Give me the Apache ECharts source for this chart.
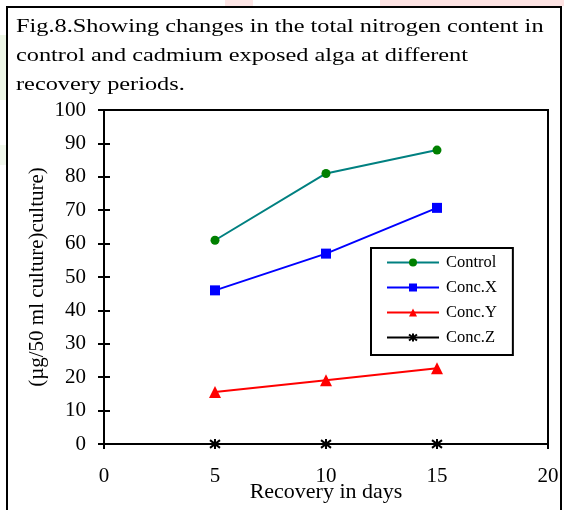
<!DOCTYPE html>
<html>
<head>
<meta charset="utf-8">
<script src="https://cdn.jsdelivr.net/npm/echarts@6/dist/echarts.min.js"></script>
<style>
html,body{margin:0;padding:0;background:#fff;}
#c{width:564px;height:510px;}
</style>
</head>
<body>
<div id="c"></div>
<script>
var days = [5, 10, 15];
var control = [61, 81, 88];
var concX = [46, 57, 70.7];
var concY = [15.6, 19.1, 22.7];
var concZ = [0, 0, 0];
var xTicks = [0, 5, 10, 15, 20];
var yTicks = [0, 10, 20, 30, 40, 50, 60, 70, 80, 90, 100];
var titleLines = [
  'Fig.8.Showing changes in the total nitrogen content in',
  'control and cadmium exposed alga at different',
  'recovery periods.'
];

function pairs(v) { return days.map(function (d, i) { return [d, v[i]]; }); }

var serif = '"Liberation Serif", "Times New Roman", serif';
var chart = echarts.init(document.getElementById('c'), null, {renderer: 'canvas'});
var asterisk = 'path://M0,0L10,10M10,0L0,10M5,-1.5L5,11.5';
var titleTop = [18, 47, 75.5];

chart.setOption({
  animation: false,
  backgroundColor: '#fff',
  textStyle: {fontFamily: serif},
  grid: {left: 104, right: 16, top: 110, bottom: 66, show: true, borderColor: '#000', borderWidth: 2, backgroundColor: 'transparent', containLabel: false, outerBoundsMode: 'none'},
  xAxis: [{
    type: 'value', min: xTicks[0], max: xTicks[xTicks.length - 1], interval: 5,
    axisLine: {show: true, lineStyle: {color: '#000', width: 2}},
    axisTick: {show: true, length: 5, lineStyle: {color: '#000', width: 2}},
    axisLabel: {color: '#000', fontSize: 21, fontFamily: serif, margin: 22},
    splitLine: {show: false},
    name: 'Recovery in days', nameLocation: 'middle', nameGap: 37, nameMoveOverlap: false,
    nameTextStyle: {color: '#000', fontSize: 22, fontFamily: serif}
  }],
  yAxis: [{
    type: 'value', min: yTicks[0], max: yTicks[yTicks.length - 1], interval: 10,
    axisLine: {show: true, lineStyle: {color: '#000', width: 2}},
    axisTick: {show: true, length: 6, lineStyle: {color: '#000', width: 2}},
    axisLabel: {color: '#000', fontSize: 21, fontFamily: serif, margin: 18},
    splitLine: {show: false},
    name: '(\u00b5g/50 ml culture)culture)', nameLocation: 'middle', nameGap: 56, nameRotate: 90, nameMoveOverlap: false,
    nameTextStyle: {color: '#000', fontSize: 21, fontFamily: serif}
  }, {
    type: 'value', min: yTicks[0], max: yTicks[yTicks.length - 1], interval: 10, position: 'left',
    axisLine: {show: false},
    axisTick: {show: true, inside: true, length: 6, lineStyle: {color: '#000', width: 2}},
    axisLabel: {show: false},
    splitLine: {show: false}
  }],
  legend: {
    orient: 'vertical', left: 371, top: 248,
    padding: [6, 16, 9, 15], itemGap: 8, itemWidth: 52, itemHeight: 10,
    borderColor: '#000', borderWidth: 2, backgroundColor: '#fff',
    textStyle: {color: '#000', fontSize: 16.5, fontFamily: serif, padding: [0, 0, 0, 2]},
    data: ['Control', 'Conc.X', 'Conc.Y', 'Conc.Z']
  },
  graphic: [
    {type: 'rect', shape: {x: 0, y: 35, width: 6, height: 65}, style: {fill: '#edf6e6'}, silent: true},
    {type: 'rect', shape: {x: 0, y: 145, width: 6, height: 20}, style: {fill: '#f1f8ec'}, silent: true},
    {type: 'rect', shape: {x: 225, y: 0, width: 28, height: 6}, style: {fill: '#fde6e6'}, silent: true},
    {type: 'rect', shape: {x: 380, y: 0, width: 184, height: 6}, style: {fill: '#fde3e3'}, silent: true},
    {type: 'rect', shape: {x: 7, y: 7, width: 554, height: 510}, style: {fill: 'none', stroke: '#000', lineWidth: 2}, silent: true},
    {type: 'text', x: 16, y: titleTop[0], scaleX: 1.28, style: {x: 0, y: 0, text: titleLines[0], font: '19px ' + serif, fill: '#000', verticalAlign: 'top'}},
    {type: 'text', x: 16, y: titleTop[1], scaleX: 1.28, style: {x: 0, y: 0, text: titleLines[1], font: '19px ' + serif, fill: '#000', verticalAlign: 'top'}},
    {type: 'text', x: 16, y: titleTop[2], scaleX: 1.28, style: {x: 0, y: 0, text: titleLines[2], font: '19px ' + serif, fill: '#000', verticalAlign: 'top'}}
  ],
  series: [{
    name: 'Control', type: 'line', data: pairs(control),
    symbol: 'circle', symbolSize: 9,
    lineStyle: {color: '#008080', width: 2},
    itemStyle: {color: '#008000'}
  }, {
    name: 'Conc.X', type: 'line', data: pairs(concX),
    symbol: 'rect', symbolSize: 10,
    lineStyle: {color: '#0000ff', width: 2},
    itemStyle: {color: '#0000ff'}
  }, {
    name: 'Conc.Y', type: 'line', data: pairs(concY),
    symbol: 'triangle', symbolSize: 12,
    lineStyle: {color: '#ff0000', width: 2},
    itemStyle: {color: '#ff0000'}
  }, {
    name: 'Conc.Z', type: 'line', data: pairs(concZ),
    symbol: asterisk, symbolSize: 10,
    lineStyle: {color: '#000', width: 2},
    itemStyle: {color: 'none', borderColor: '#000', borderWidth: 2}
  }]
});
</script>
</body>
</html>
